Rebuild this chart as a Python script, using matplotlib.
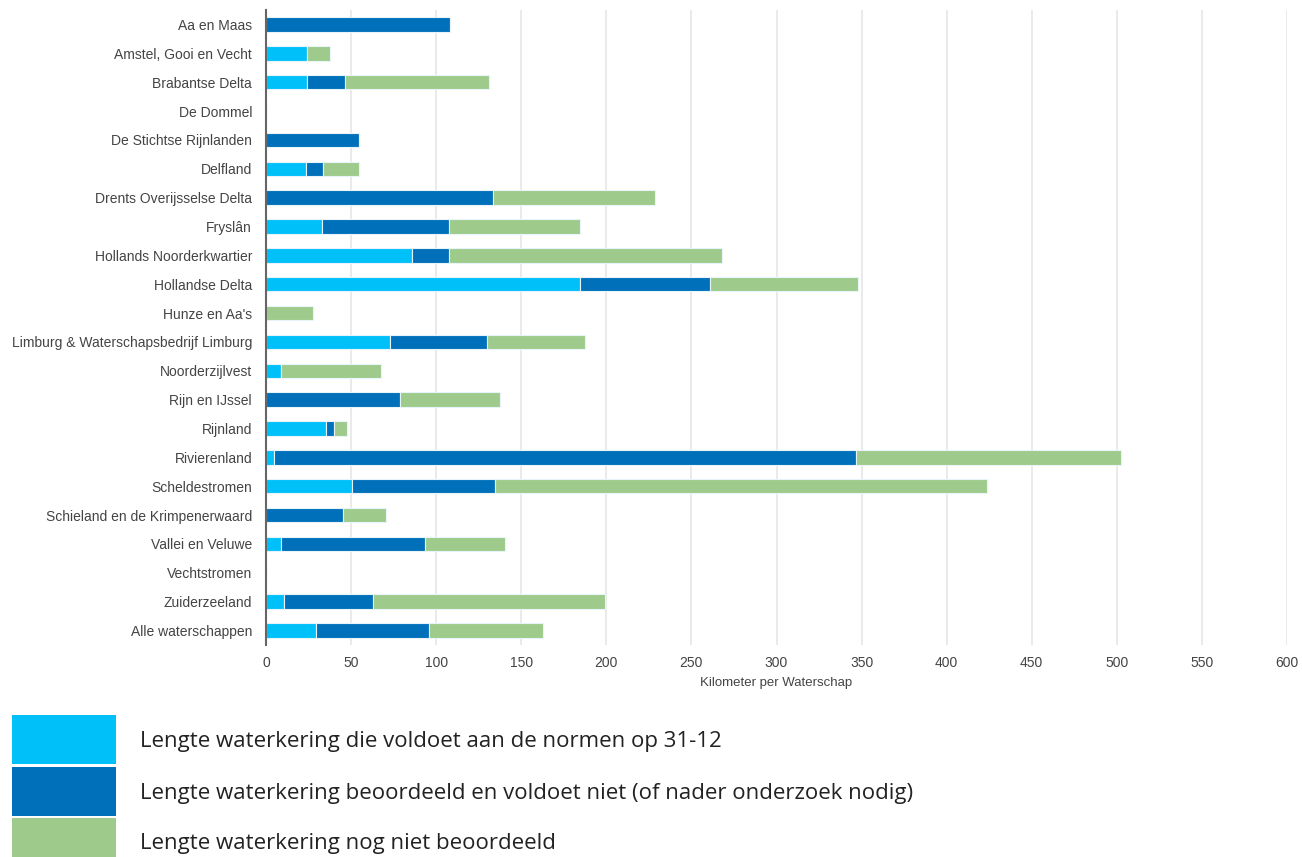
import numpy as np
import matplotlib.pyplot as plt
from matplotlib.patches import Rectangle

# data
waterschappen = ["Aa en Maas", "Amstel, Gooi en Vecht", "Brabantse Delta", "De Dommel",
                 "De Stichtse Rijnlanden", "Delfland", "Drents Overijsselse Delta", "Fryslân",
                 "Hollands Noorderkwartier", "Hollandse Delta", "Hunze en Aa's",
                 "Limburg & Waterschapsbedrijf Limburg", "Noorderzijlvest", "Rijn en IJssel",
                 "Rijnland", "Rivierenland", "Scheldestromen", "Schieland en de Krimpenerwaard",
                 "Vallei en Veluwe", "Vechtstromen", "Zuiderzeeland", "Alle waterschappen"]
voldoet = [0, 24, 24, 0, 0, 23.5, 0, 33, 86, 184.7, 0, 73, 8.8, 0,
           35.3, 4.8, 50.8, 0, 8.8, 0, 10.8, 29.6]
voldoet_niet = [108, 0, 22.5, 0, 54.5, 10, 133.5, 74.6, 21.7, 76, 0, 57, 0, 78.6,
                4.5, 341.7, 84, 45.5, 84.7, 0, 52, 66]
niet_beoordeeld = [0, 13.5, 84.5, 0, 0, 21, 95.3, 77, 160, 87, 27.6, 57.6, 58.8, 59,
                   8, 156, 289, 25, 47, 0, 136.7, 67]
legend_labels = ["Lengte waterkering die voldoet aan de normen op 31-12",
                 "Lengte waterkering beoordeeld en voldoet niet (of nader onderzoek nodig)",
                 "Lengte waterkering nog niet beoordeeld"]
colors = ["#00c0fa", "#0070ba", "#9ecb8b"]

W, H = 1302, 857
fig = plt.figure(figsize=(W/100, H/100), dpi=100)
ax = fig.add_axes([266/W, 1-645/H, (1287-266)/W, (645-10)/H])

y = np.arange(len(waterschappen))
left = np.zeros(len(waterschappen))
for vals, c in zip([voldoet, voldoet_niet, niet_beoordeeld], colors):
    vals = np.array(vals)
    ax.barh(y, vals, left=left, height=0.5, color=c, edgecolor="#e8f4fa", linewidth=0.8, zorder=3)
    left += vals

ax.set_xlim(0, 600)
ax.set_ylim(len(waterschappen)-0.5, -0.5)
ax.set_xticks(np.arange(0, 601, 50))
ax.set_yticks(y)
ax.set_yticklabels(waterschappen)
ax.tick_params(axis="both", length=0, labelsize=10, labelcolor="#444444")
ax.tick_params(axis="y", pad=10)
ax.tick_params(axis="x", pad=8)
for t in ax.get_xticklabels() + ax.get_yticklabels():
    t.set_fontfamily("Liberation Sans")
ax.grid(axis="x", color="#e6e6e6", linewidth=1.2, zorder=0)
for s in ["top", "right", "bottom"]:
    ax.spines[s].set_visible(False)
ax.spines["left"].set_color("#666666")
ax.spines["left"].set_linewidth(1.5)
ax.spines["left"].set_zorder(4)
ax.set_xlabel("Kilometer per Waterschap", fontsize=9.5, color="#444444", family="Liberation Sans", labelpad=5)

# legend drawn below the chart
box_tops = [715, 767, 818]
for top, c, lab in zip(box_tops, colors, legend_labels):
    fig.patches.append(Rectangle((12/W, 1-(top+49)/H), 104/W, 49/H, transform=fig.transFigure,
                                 facecolor=c, edgecolor="none"))
    fig.text(140/W, 1-(top+26)/H, lab, fontsize=16, color="#222222", family="Open Sans",
             va="center", ha="left")

fig.savefig("out.png", dpi=100)
